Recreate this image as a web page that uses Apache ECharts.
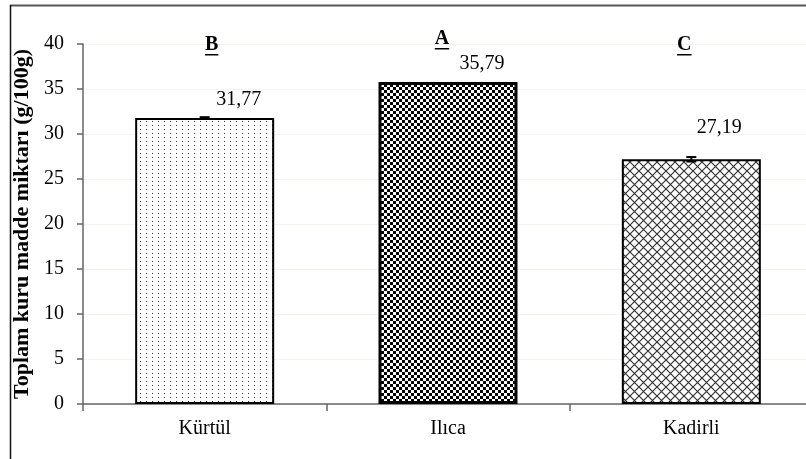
<!DOCTYPE html>
<html>
<head>
<meta charset="utf-8">
<script src="https://cdn.jsdelivr.net/npm/echarts@6/dist/echarts.min.js"></script>
<style>
  html, body { margin: 0; padding: 0; background: #fff; }
  #chart { width: 806px; height: 459px; }
</style>
</head>
<body>
<div id="chart"></div>
<script>
// Dry matter per location (g/100g), with standard error and significance group
const categories = ['Kürtül', 'Ilıca', 'Kadirli'];
const dryMatter = [31.77, 35.79, 27.19];
const stdErrors = [0.1, 0, 0.25];
const groupLetters = ['B', 'A', 'C'];
const yMin = 0, yMax = 40, yStep = 5;

const SERIF = '"Liberation Serif", "Times New Roman", serif';

// Fill textures for the bars
function tile(w, h, draw) {
  const c = document.createElement('canvas');
  c.width = w; c.height = h;
  const g = c.getContext('2d');
  g.fillStyle = '#fff';
  g.fillRect(0, 0, w, h);
  draw(g, w, h);
  return c;
}
const dotTile = tile(6, 4, (g) => {
  g.fillStyle = '#333';
  g.fillRect(2, 1, 1, 1);
});
const checkTile = tile(6, 6, (g) => {
  g.fillStyle = '#000';
  g.fillRect(0, 0, 3, 3);
  g.fillRect(3, 3, 3, 3);
});
const hatchTile = tile(9, 9, (g, w, h) => {
  g.strokeStyle = '#333';
  g.lineWidth = 1.2;
  g.beginPath();
  g.moveTo(-1, -1); g.lineTo(w + 1, h + 1);
  g.moveTo(w + 1, -1); g.lineTo(-1, h + 1);
  g.stroke();
});
const fills = [dotTile, checkTile, hatchTile];
const borderWidths = [2, 3, 2];

// value-label placement relative to bar top
const labelShift = [[34, 0], [34, 0], [28, -14]];
// letter placement relative to the top of the value axis
const letterShift = [[7, 1], [-6, -5], [-7, 1]];

const measureCtx = document.createElement('canvas').getContext('2d');
measureCtx.font = 'bold 20px ' + SERIF;

const chart = echarts.init(document.getElementById('chart'));

const barData = dryMatter.map((v, i) => ({
  value: v,
  itemStyle: {
    color: { image: fills[i], repeat: 'repeat' },
    borderColor: '#000',
    borderWidth: borderWidths[i]
  },
  label: { offset: labelShift[i] }
}));

chart.setOption({
  animation: false,
  backgroundColor: '#fff',
  grid: { left: 83, right: -7, top: 44, bottom: 55, containLabel: false, outerBoundsMode: 'none' },
  xAxis: {
    type: 'category',
    data: categories,
    axisLine: { lineStyle: { color: '#666', width: 1.5 } },
    axisTick: { show: true, alignWithLabel: false, length: 7, lineStyle: { color: '#666', width: 1.5 } },
    axisLabel: { color: '#000', fontFamily: SERIF, fontSize: 20, margin: 15 }
  },
  yAxis: {
    type: 'value',
    min: yMin, max: yMax, interval: yStep,
    name: 'Toplam kuru madde miktarı (g/100g)',
    nameLocation: 'middle',
    nameGap: 50,
    nameTextStyle: { color: '#000', fontFamily: SERIF, fontSize: 22, fontWeight: 'bold' },
    axisLine: { show: true, lineStyle: { color: '#666', width: 1.5 } },
    axisTick: { show: true, length: 6, lineStyle: { color: '#666', width: 1.5 } },
    axisLabel: { color: '#000', fontFamily: SERIF, fontSize: 20, margin: 19 },
    splitLine: { show: true, lineStyle: { color: '#f3f3ee', width: 1 } }
  },
  series: [
    {
      type: 'bar',
      data: barData,
      barWidth: 139,
      z: 2,
      label: {
        show: true,
        position: 'top',
        distance: 8,
        color: '#000',
        fontFamily: SERIF,
        fontSize: 20,
        formatter: (p) => p.value.toFixed(2).replace('.', ',')
      }
    },
    {
      type: 'custom',
      z: 5,
      data: dryMatter.map((v, i) => [i, v, stdErrors[i]]),
      renderItem: (params, api) => {
        const x = api.value(0), v = api.value(1), e = api.value(2);
        if (!(e > 0)) return null;
        const hi = api.coord([x, v + e]);
        const lo = api.coord([x, v - e]);
        const hw = 5;
        const st = { stroke: '#000', lineWidth: 2 };
        return {
          type: 'group',
          children: [
            { type: 'line', shape: { x1: hi[0], y1: hi[1], x2: lo[0], y2: lo[1] }, style: st },
            { type: 'line', shape: { x1: hi[0] - hw, y1: hi[1], x2: hi[0] + hw, y2: hi[1] }, style: st },
            { type: 'line', shape: { x1: lo[0] - hw, y1: lo[1], x2: lo[0] + hw, y2: lo[1] }, style: st }
          ]
        };
      }
    },
    {
      type: 'custom',
      z: 6,
      data: groupLetters.map((l, i) => [i, yMax]),
      renderItem: (params, api) => {
        const i = params.dataIndex;
        const letter = groupLetters[i];
        const p = api.coord([api.value(0), api.value(1)]);
        const cx = p[0] + letterShift[i][0];
        const cy = p[1] + letterShift[i][1];
        const w = measureCtx.measureText(letter).width;
        return {
          type: 'group',
          children: [
            {
              type: 'text',
              style: {
                x: cx, y: cy, text: letter,
                align: 'center', verticalAlign: 'middle',
                font: 'bold 20px ' + SERIF, fill: '#000'
              }
            },
            {
              type: 'rect',
              shape: { x: cx - w / 2, y: cy + 9, width: w, height: 1.5 },
              style: { fill: '#000' }
            }
          ]
        };
      }
    }
  ],
  graphic: [
    { type: 'line', silent: true, shape: { x1: 10, y1: 5.5, x2: 806, y2: 5.5 }, style: { stroke: '#555', lineWidth: 2 } },
    { type: 'line', silent: true, shape: { x1: 10.5, y1: 5, x2: 10.5, y2: 459 }, style: { stroke: '#111', lineWidth: 1.5 } }
  ]
});
</script>
</body>
</html>
